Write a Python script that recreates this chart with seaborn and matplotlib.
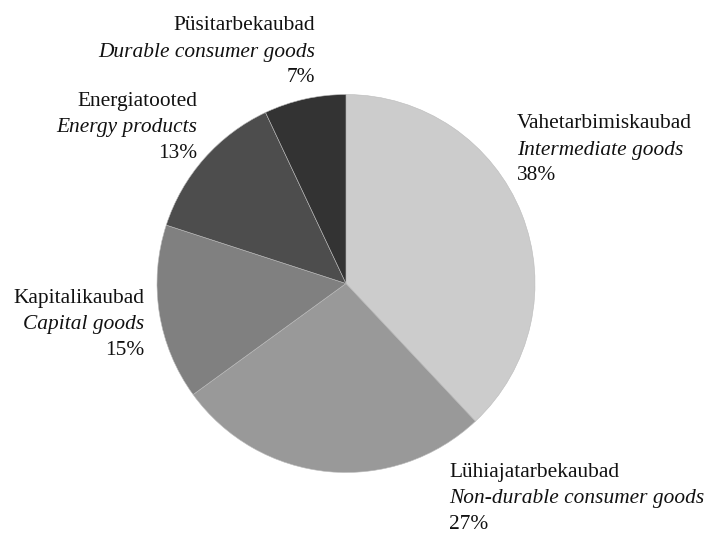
import matplotlib
matplotlib.use("Agg")
import matplotlib.pyplot as plt
import seaborn as sns

sns.set_theme(style="white")
plt.rcParams["font.family"] = ["Liberation Serif", "DejaVu Serif"]

# Import structure by product group (share, %)
names_et = ["Vahetarbimiskaubad", "Lühiajatarbekaubad", "Kapitalikaubad",
            "Energiatooted", "Püsitarbekaubad"]
names_en = ["Intermediate goods", "Non-durable consumer goods", "Capital goods",
            "Energy products", "Durable consumer goods"]
shares = [38, 27, 15, 13, 7]
colors = ["#cccccc", "#999999", "#808080", "#4d4d4d", "#333333"]

W, H = 704, 533
fig = plt.figure(figsize=(W / 100, H / 100), dpi=100)
fig.patch.set_facecolor("white")

# pie centre and radius in pixels
cx, cy, r = 346, 283.5, 189
ax = fig.add_axes([(cx - r) / W, (H - cy - r) / H, 2 * r / W, 2 * r / H])
ax.pie(shares, colors=colors, startangle=90, counterclock=False,
       wedgeprops=dict(linewidth=0.4, edgecolor="#bbbbbb"))
ax.set_xlim(-1, 1)
ax.set_ylim(-1, 1)
ax.set_aspect("equal")
ax.axis("off")

# label anchors: (x in px, first baseline in px, horizontal alignment)
anchors = [(517, 128.5, "left"), (449, 477, "left"), (144, 303, "right"),
           (197, 106, "right"), (315, 30.5, "right")]
step = 26
fs = 15.4
for (x, y0, ha), et, en, v in zip(anchors, names_et, names_en, shares):
    lines = [(et, "normal"), (en, "italic"), (f"{v}%", "normal")]
    for i, (txt, style) in enumerate(lines):
        fig.text(x / W, 1 - (y0 + i * step) / H, txt, ha=ha, va="baseline",
                 fontsize=fs, fontstyle=style, color="#111111")

fig.savefig("out.png", dpi=100, facecolor="white")
